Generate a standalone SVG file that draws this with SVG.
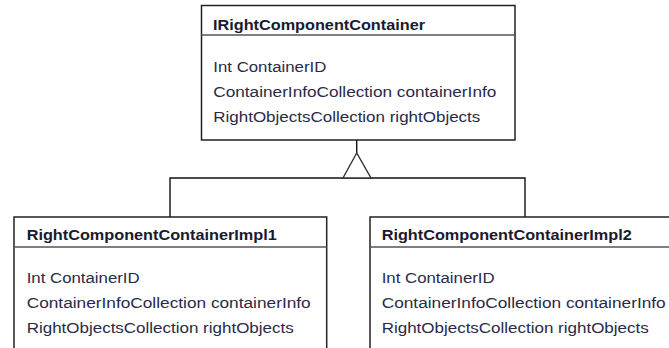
<svg xmlns="http://www.w3.org/2000/svg" width="669" height="348" viewBox="0 0 669 348">
<style>
.box{fill:#fff;stroke:#222;stroke-width:1.5}
.div{stroke:#555;stroke-width:1.6}
.title{font-family:"Liberation Sans",Arial,sans-serif;font-weight:bold;font-size:14px;fill:#1a1a2e}
.attr{font-family:"Liberation Sans",Arial,sans-serif;font-size:14px;fill:#2a2a48}
.conn{fill:none;stroke:#111;stroke-width:1.4}
.tri{fill:#fff;stroke:#333;stroke-width:1.4}
</style>
<rect width="669" height="348" fill="#fff"/>
<g id="connectors">
<line class="conn" x1="356.7" y1="140" x2="356.7" y2="153"/>
<polyline class="conn" points="170,217 170,178 525,178 525,217"/>
<polygon class="tri" points="356.7,153 343,178 371,178"/>
</g>
<g id="IRightComponentContainer">
<rect class="box" x="201.5" y="5.5" width="313.5" height="134.5"/>
<line class="div" x1="201.5" y1="35" x2="515" y2="35"/>
<text class="title" x="213" y="30" textLength="212" lengthAdjust="spacingAndGlyphs">IRightComponentContainer</text>
<text class="attr" x="213.3" y="72" textLength="113" lengthAdjust="spacingAndGlyphs">Int ContainerID</text>
<text class="attr" x="213.3" y="96.7" textLength="283" lengthAdjust="spacingAndGlyphs">ContainerInfoCollection containerInfo</text>
<text class="attr" x="213.3" y="121.7" textLength="267" lengthAdjust="spacingAndGlyphs">RightObjectsCollection rightObjects</text>
</g>
<g id="RightComponentContainerImpl1">
<rect class="box" x="14" y="217" width="312.7" height="140"/>
<line class="div" x1="14" y1="247" x2="326.7" y2="247"/>
<text class="title" x="26.7" y="240" textLength="250" lengthAdjust="spacingAndGlyphs">RightComponentContainerImpl1</text>
<text class="attr" x="26.7" y="283.3" textLength="113" lengthAdjust="spacingAndGlyphs">Int ContainerID</text>
<text class="attr" x="26.7" y="308.3" textLength="284" lengthAdjust="spacingAndGlyphs">ContainerInfoCollection containerInfo</text>
<text class="attr" x="26.7" y="333.3" textLength="267" lengthAdjust="spacingAndGlyphs">RightObjectsCollection rightObjects</text>
</g>
<g id="RightComponentContainerImpl2">
<rect class="box" x="370" y="217" width="330" height="140"/>
<line class="div" x1="370" y1="247" x2="700" y2="247"/>
<text class="title" x="381.7" y="240" textLength="250" lengthAdjust="spacingAndGlyphs">RightComponentContainerImpl2</text>
<text class="attr" x="381.7" y="283.3" textLength="113" lengthAdjust="spacingAndGlyphs">Int ContainerID</text>
<text class="attr" x="381.7" y="308.3" textLength="284" lengthAdjust="spacingAndGlyphs">ContainerInfoCollection containerInfo</text>
<text class="attr" x="381.7" y="333.3" textLength="267" lengthAdjust="spacingAndGlyphs">RightObjectsCollection rightObjects</text>
</g>
</svg>
